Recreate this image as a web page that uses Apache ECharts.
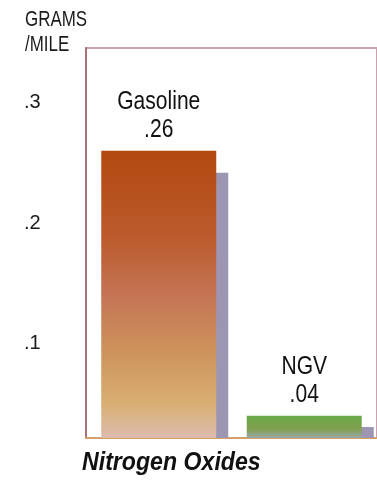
<!DOCTYPE html>
<html>
<head>
<meta charset="utf-8">
<script src="https://cdn.jsdelivr.net/npm/echarts@6/dist/echarts.min.js"></script>
<style>
html,body{margin:0;padding:0;background:#fff;}
#c{width:377px;height:482px;}
</style>
</head>
<body>
<div id="c"></div>
<script>
var categories = ["Gasoline", "NGV"];
var values = [0.26, 0.04];
var tickValues = [0.1, 0.2, 0.3];
var yTitleLines = ["GRAMS", "/MILE"];
var chartTitle = "Nitrogen Oxides";

var FONT = "'Liberation Sans', Arial, sans-serif";
var Y_MIN = 0.0216, Y_MAX = 0.3452;

function fmt(v) { return String(+v.toFixed(2)).replace(/^0/, ''); }

var gasGrad = new echarts.graphic.LinearGradient(0, 0, 0, 1, [
  {offset: 0, color: '#b24a10'},
  {offset: 0.3, color: '#bb5a2c'},
  {offset: 0.5, color: '#c47454'},
  {offset: 0.7, color: '#ce935c'},
  {offset: 0.88, color: '#d8af72'},
  {offset: 1, color: '#dcbcae'}
]);
var ngvGrad = new echarts.graphic.LinearGradient(0, 0, 0, 1, [
  {offset: 0, color: '#6aaa48'},
  {offset: 0.6, color: '#80a050'},
  {offset: 1, color: '#9aa8a8'}
]);
var barColors = [gasGrad, ngvGrad];

var chart = echarts.init(document.getElementById('c'), null, {renderer: 'canvas'});
chart.setOption({
  animation: false,
  backgroundColor: '#fff',
  graphic: [
    {type: 'text', x: 25, y: 9, scaleX: 0.77, silent: true,
     style: {text: yTitleLines[0], font: 'normal 22px ' + FONT, fill: '#1a1a1a', textVerticalAlign: 'top'}},
    {type: 'text', x: 25, y: 34, scaleX: 0.77, silent: true,
     style: {text: yTitleLines[1], font: 'normal 22px ' + FONT, fill: '#1a1a1a', textVerticalAlign: 'top'}},
    {type: 'text', x: 82, y: 450, scaleX: 0.89, silent: true,
     style: {text: chartTitle, font: 'italic bold 26px ' + FONT, fill: '#111', textVerticalAlign: 'top'}}
  ],
  grid: {left: 86, top: 48, right: -3, bottom: 44, show: true, borderColor: '#c9a2b0', borderWidth: 2, backgroundColor: 'transparent'},
  xAxis: {
    type: 'category', data: categories,
    axisLine: {show: true, lineStyle: {color: '#d6a06a', width: 2}},
    axisTick: {show: false}, axisLabel: {show: false}, splitLine: {show: false}
  },
  yAxis: {
    type: 'value', min: Y_MIN, max: Y_MAX,
    axisLine: {show: true, lineStyle: {color: '#a8707a', width: 2}},
    axisTick: {show: false},
    splitLine: {show: false},
    axisLabel: {
      customValues: tickValues, align: 'left', margin: 62,
      fontFamily: FONT, fontSize: 20, color: '#1a1a1a',
      formatter: function (v) { return fmt(v); }
    }
  },
  series: [
    {
      type: 'custom', z: 1, silent: true,
      data: values.map(function (v, i) { return [i, v]; }),
      renderItem: function (params, api) {
        var top = api.coord([api.value(0), api.value(1)]);
        var base = api.coord([api.value(0), Y_MIN]);
        var w = 115;
        var dy = Math.min(22, (base[1] - top[1]) / 2);
        return {
          type: 'rect',
          shape: {x: top[0] - w / 2 + 12, y: top[1] + dy, width: w, height: base[1] - top[1] - dy},
          style: {fill: '#9d96b2'}
        };
      }
    },
    {
      type: 'bar', z: 2, barWidth: 115,
      data: values.map(function (v, i) {
        return {value: v, itemStyle: {color: barColors[i]}};
      })
    },
    {
      type: 'custom', z: 3, silent: true,
      data: values.map(function (v, i) { return [i, v]; }),
      renderItem: function (params, api) {
        var top = api.coord([api.value(0), api.value(1)]);
        var i = api.value(0);
        return {
          type: 'text', x: top[0], y: top[1] - 7, scaleX: 0.81,
          style: {
            text: categories[i] + '\n' + fmt(api.value(1)),
            font: 'normal 26px ' + FONT, lineHeight: 28, fill: '#111',
            textAlign: 'center', textVerticalAlign: 'bottom'
          }
        };
      }
    }
  ]
});
</script>
</body>
</html>
